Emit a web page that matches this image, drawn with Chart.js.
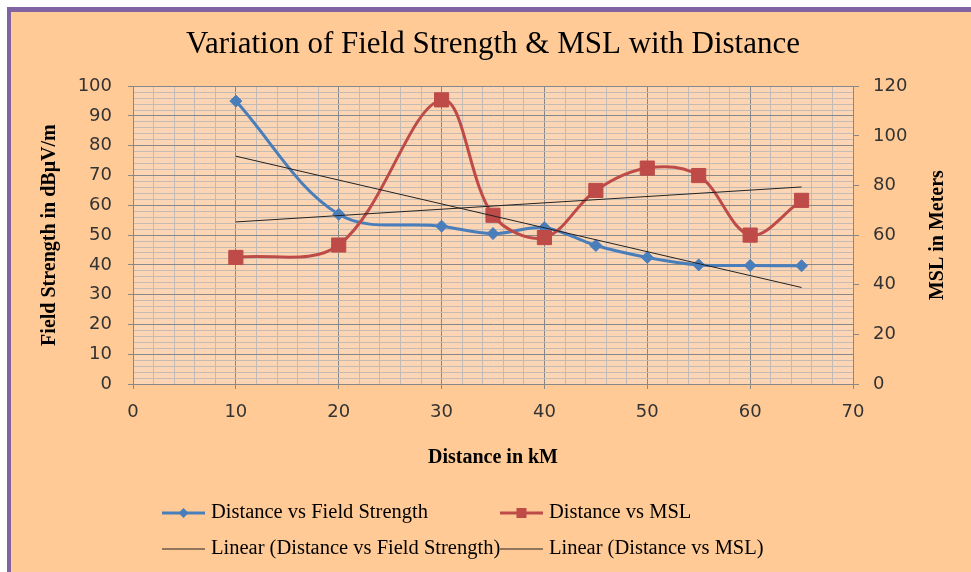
<!DOCTYPE html>
<html>
<head>
<meta charset="utf-8">
<script src="https://cdn.jsdelivr.net/npm/chart.js@4.4.0/dist/chart.umd.min.js"></script>
<style>
  html, body { margin: 0; padding: 0; background: #fff; }
</style>
</head>
<body>
<canvas id="myChart" width="971" height="572"></canvas>
<script>
const distance = [10, 20, 30, 35, 40, 45, 50, 55, 60, 65];
const fieldStrength = [95, 57, 53, 50.5, 52.5, 46.5, 42.5, 40, 39.8, 39.7];
const msl = [51, 56, 114.5, 68, 59, 78, 87, 84, 60, 74];
const trendX = [10, 65];
const fieldTrend = [76.5, 32.4];
const mslTrend = [65.3, 79.4];

const xTicks = [0, 10, 20, 30, 40, 50, 60, 70];
const leftTicks = [0, 10, 20, 30, 40, 50, 60, 70, 80, 90, 100];
const rightTicks = [0, 20, 40, 60, 80, 100, 120];

const MAJOR = '#888888';
const MINOR = '#C4BCB4';
const tickFont = { family: 'DejaVu Sans', size: 18 };
const serifBold = { family: 'Liberation Serif', size: 20, weight: 'bold' };

const pts = (xs, ys) => xs.map((x, i) => ({ x: x, y: ys[i] }));

const bgPlugin = {
  id: 'bg',
  beforeDraw(chart) {
    const c = chart.ctx, a = chart.chartArea;
    c.save();
    c.fillStyle = '#fff';
    c.fillRect(0, 0, chart.width, chart.height);
    c.fillStyle = '#8064A2';
    c.fillRect(7, 7, chart.width - 7, chart.height - 7);
    c.fillStyle = '#FFCA96';
    c.fillRect(11, 12, chart.width - 11, chart.height - 12);
    c.fillStyle = '#FCD5B4';
    c.fillRect(a.left, a.top, a.right - a.left, a.bottom - a.top);
    c.restore();
  }
};

// legend in two columns, like the sheet
const legendSlots = [
  { x: 162, y: 513 }, { x: 500, y: 513 },
  { x: 162, y: 549 }, { x: 500, y: 549 }
];
const legendPlugin = {
  id: 'sheetLegend',
  afterDraw(chart) {
    const c = chart.ctx;
    c.save();
    chart.data.datasets.forEach((ds, i) => {
      const s = legendSlots[i];
      c.strokeStyle = ds.borderColor;
      c.lineWidth = ds.borderWidth;
      c.beginPath();
      c.moveTo(s.x, s.y);
      c.lineTo(s.x + 43, s.y);
      c.stroke();
      const mx = s.x + 21.5;
      c.fillStyle = ds.borderColor;
      if (ds.pointStyle === 'rectRot') {
        c.beginPath();
        c.moveTo(mx, s.y - 5); c.lineTo(mx + 5, s.y);
        c.lineTo(mx, s.y + 5); c.lineTo(mx - 5, s.y);
        c.closePath(); c.fill();
      } else if (ds.pointStyle === 'rect') {
        c.fillRect(mx - 5, s.y - 5, 10, 10);
      }
      c.fillStyle = '#000';
      c.font = '20.5px "Liberation Serif"';
      c.textBaseline = 'middle';
      c.textAlign = 'left';
      c.fillText(ds.label, s.x + 49, s.y);
    });
    // right axis title reads bottom-to-top
    const a = chart.chartArea;
    c.translate(938, (a.top + a.bottom) / 2);
    c.rotate(-Math.PI / 2);
    c.font = 'bold 20px "Liberation Serif"';
    c.textAlign = 'center';
    c.textBaseline = 'middle';
    c.fillText('MSL in Meters', 0, 0);
    c.restore();
  }
};

const data = {
  datasets: [{
    label: 'Distance vs Field Strength',
    data: pts(distance, fieldStrength),
    borderColor: '#4A7EBB',
    backgroundColor: '#4A7EBB',
    borderWidth: 3,
    pointStyle: 'rectRot',
    pointRadius: 6,
    pointBorderWidth: 1,
    tension: 0.35,
    yAxisID: 'y',
    order: 2
  }, {
    label: 'Distance vs MSL',
    data: pts(distance, msl),
    borderColor: '#BE4B48',
    backgroundColor: '#BE4B48',
    borderWidth: 3,
    pointStyle: 'rect',
    pointRadius: 10,
    pointBorderWidth: 1,
    tension: 0.35,
    yAxisID: 'y1',
    order: 1
  }, {
    label: 'Linear (Distance vs Field Strength)',
    data: pts(trendX, fieldTrend),
    borderColor: '#222',
    borderWidth: 1,
    pointRadius: 0,
    tension: 0,
    yAxisID: 'y',
    order: 0
  }, {
    label: 'Linear (Distance vs MSL)',
    data: pts(trendX, mslTrend),
    borderColor: '#222',
    borderWidth: 1,
    pointRadius: 0,
    tension: 0,
    yAxisID: 'y1',
    order: 0
  }]
};

const config = {
  type: 'line',
  data: data,
  plugins: [bgPlugin, legendPlugin],
  options: {
    responsive: false,
    devicePixelRatio: 1,
    animation: false,
    layout: { padding: { left: 15, right: 0, top: 0, bottom: 98 } },
    plugins: {
      legend: { display: false },
      tooltip: { enabled: false },
      title: {
        display: true,
        text: 'Variation of Field Strength & MSL with Distance',
        color: '#000',
        font: { family: 'Liberation Serif', size: 31, weight: 'normal' },
        padding: { top: 26, bottom: 23 }
      }
    },
    scales: {
      x: {
        type: 'linear',
        position: 'bottom',
        min: 0,
        max: 70,
        ticks: {
          stepSize: 2,
          autoSkip: false,
          maxRotation: 0,
          padding: 13,
          color: '#333',
          font: tickFont,
          callback: v => xTicks.includes(v) ? v : ''
        },
        grid: {
          color: ctx => ctx.tick && ctx.tick.value % 10 === 0 ? MAJOR : MINOR,
          tickColor: ctx => ctx.tick && ctx.tick.value % 10 === 0 ? MAJOR : 'transparent',
          tickLength: 5
        },
        border: { color: MAJOR },
        title: {
          display: true,
          text: 'Distance in kM',
          color: '#000',
          font: serifBold,
          padding: { top: 0, bottom: 4 }
        },
        afterFit(s) { s.height = 90; }
      },
      y: {
        position: 'left',
        min: 0,
        max: 100,
        ticks: {
          stepSize: 2,
          autoSkip: false,
          padding: 16,
          color: '#333',
          font: tickFont,
          callback: v => leftTicks.includes(v) ? v : ''
        },
        grid: {
          color: ctx => ctx.tick && ctx.tick.value % 10 === 0 ? MAJOR : MINOR,
          tickColor: ctx => ctx.tick && ctx.tick.value % 10 === 0 ? MAJOR : 'transparent',
          tickLength: 5
        },
        border: { color: MAJOR },
        title: {
          display: true,
          text: 'Field Strength in dBμV/m',
          color: '#000',
          font: serifBold,
          padding: { top: 23, bottom: 0 }
        },
        afterFit(s) { s.width = 118; }
      },
      y1: {
        position: 'right',
        min: 0,
        max: 120,
        ticks: {
          stepSize: 20,
          padding: 14,
          color: '#333',
          font: tickFont,
          callback: v => rightTicks.includes(v) ? v : ''
        },
        grid: {
          drawOnChartArea: false,
          color: MAJOR,
          tickLength: 6
        },
        border: { color: MAJOR },
        afterFit(s) { s.width = 118; }
      }
    }
  }
};

const ctx = document.getElementById('myChart');
const myChart = new Chart(ctx, config);
</script>
</body>
</html>
